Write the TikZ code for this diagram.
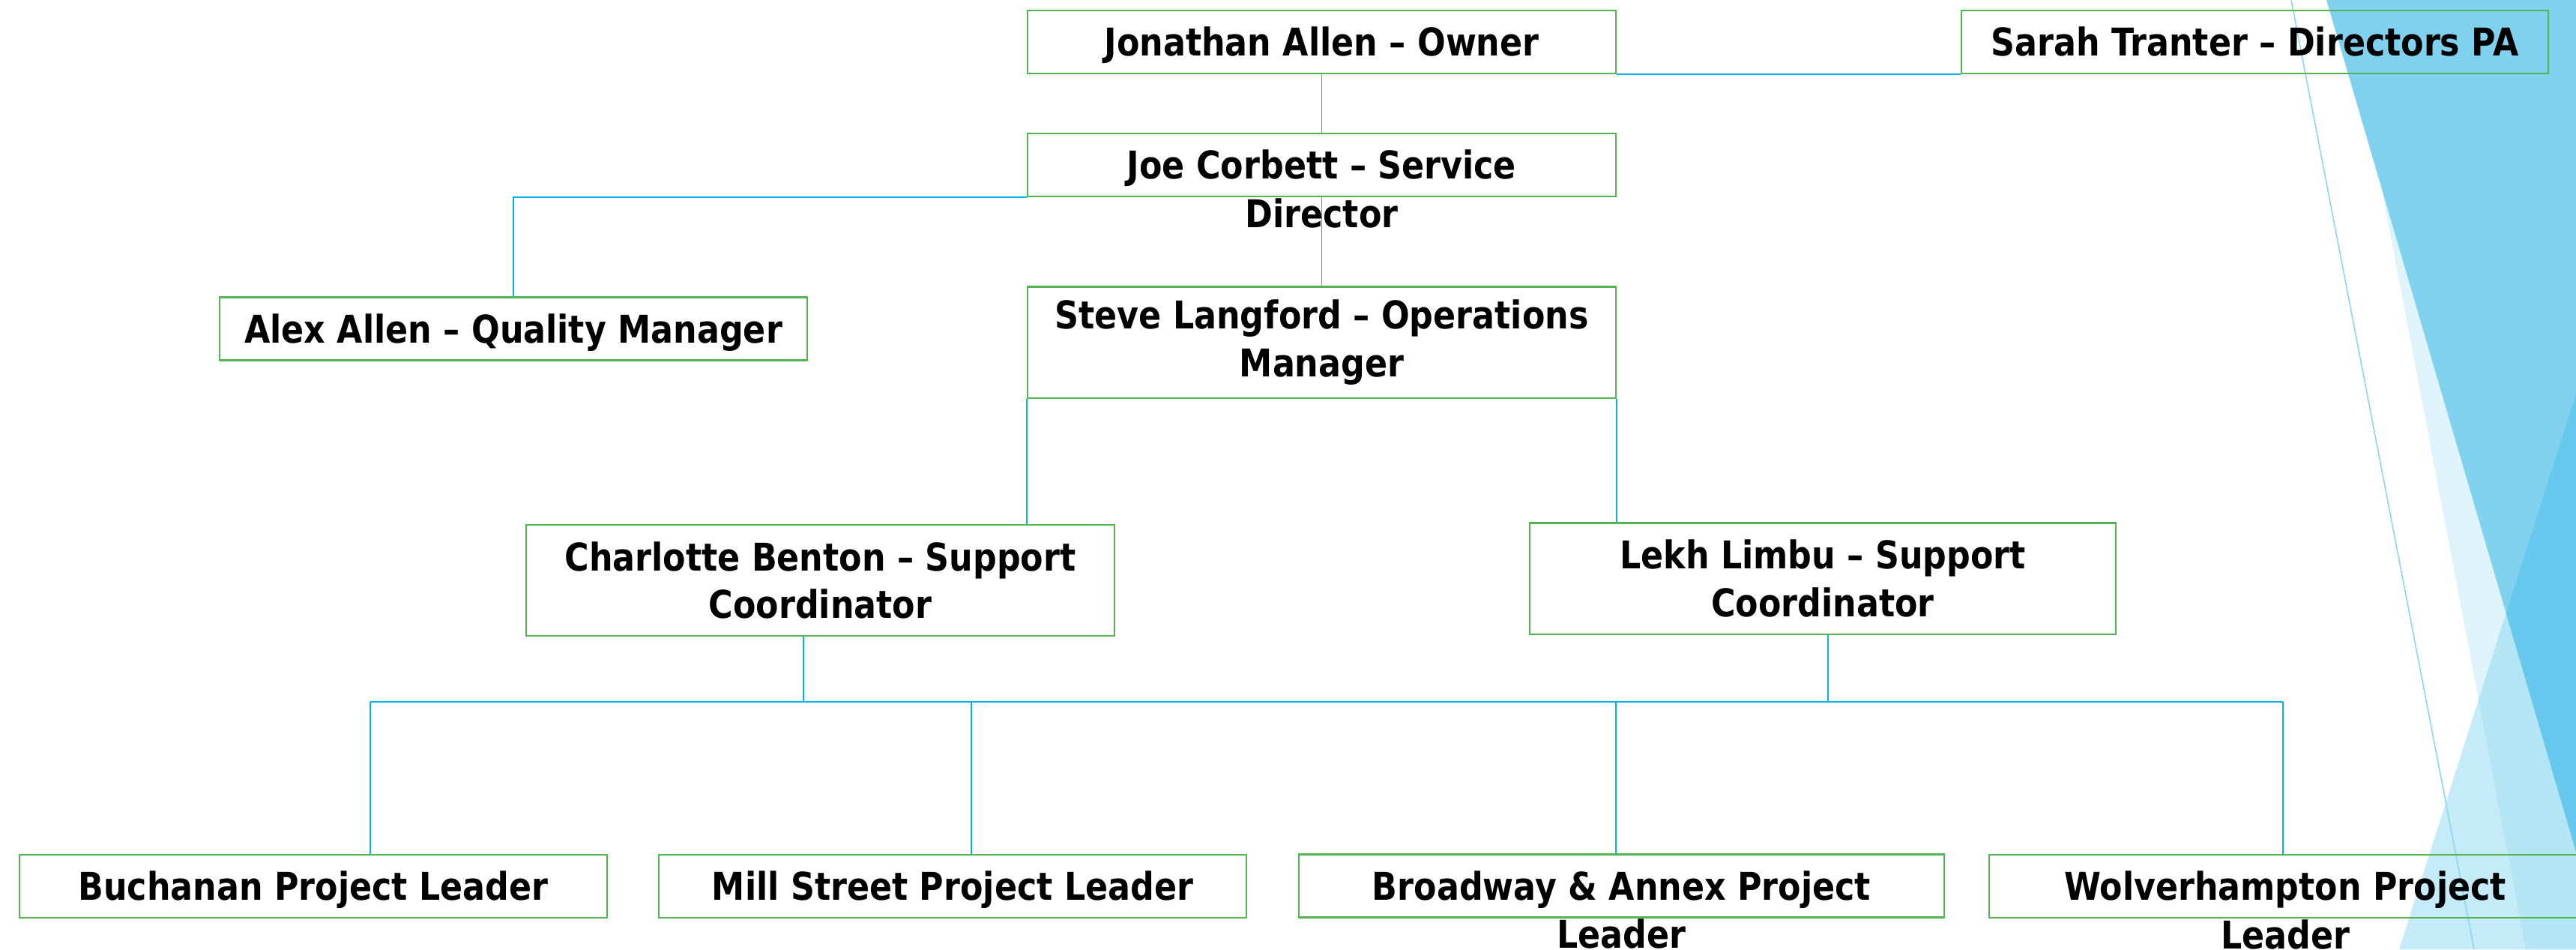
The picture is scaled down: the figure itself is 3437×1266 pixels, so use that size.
\documentclass[tikz,border=0pt]{standalone}
\usepackage{fontspec}
\newfontfamily\orgfont[FakeStretch=0.87]{DejaVu Sans}
\usetikzlibrary{calc}

\definecolor{boxgreen}{HTML}{52B452}
\definecolor{linkblue}{HTML}{00B0F0}
\definecolor{facetA}{HTML}{7FD1EE}
\definecolor{facetB}{HTML}{DFF3FB}
\definecolor{facetC}{HTML}{C5EBF8}
\definecolor{facetBC}{HTML}{B3E5F5}
\definecolor{facetAC}{HTML}{66C8EC}
\definecolor{facetline}{HTML}{8AD7F2}

\tikzset{
	person/.style={draw=boxgreen, line width=0.6pt, inner sep=0pt, align=center,
		minimum width=7.84cm, minimum height=0.84cm,
		font=\orgfont\bfseries\fontsize{14.5pt}{18.1pt}\selectfont},
	oneline/.style={person, text height=0.372cm, text depth=0pt},
	twoline/.style={person, minimum height=1.48cm},
	spill/.style={inner sep=0pt, text height=0.372cm, text depth=0pt,
		font=\orgfont\bfseries\fontsize{14.5pt}{18.1pt}\selectfont},
	link/.style={linkblue, line width=0.55pt}
}

\begin{document}
\begin{tikzpicture}[x=0.01cm, y=-0.01cm]
	\useasboundingbox (0,0) rectangle (3437,1266);
	
	% facets on the right
	\fill[facetB] (3130,0) -- (3437,0) -- (3437,1266) -- (3370,1266) -- cycle;
	\fill[facetC] (3201,1266) -- (3437,525) -- (3437,1266) -- cycle;
	\begin{scope}
		\clip (3130,0) -- (3437,0) -- (3437,1266) -- (3370,1266) -- cycle;
		\fill[facetBC] (3201,1266) -- (3437,525) -- (3437,1266) -- cycle;
	\end{scope}
	\fill[facetA] (3104,0) -- (3437,0) -- (3437,1136) -- cycle;
	\begin{scope}
		\clip (3104,0) -- (3437,0) -- (3437,1136) -- cycle;
		\fill[facetAC] (3201,1266) -- (3437,525) -- (3437,1266) -- cycle;
	\end{scope}
	\draw[facetline, line width=0.45pt] (3057,0) -- (3301,1266);
	
	\node[oneline] (owner) at (1763.5,56) {Jonathan Allen – Owner};
	\node[oneline, minimum width=7.83cm] (pa) at (3008.5,56) {Sarah Tranter – Directors PA};
	\node[oneline, label={[spill, label distance=0.02cm]below:Director}] (svc) at (1763.5,220) {Joe Corbett – Service};
	\node[oneline, minimum width=7.83cm] (qual) at (685,438.5) {Alex Allen – Quality Manager};
	\node[twoline, minimum width=7.85cm] (ops) at (1763.5,456.5) {Steve Langford – Operations\\Manager};
	\node[twoline, minimum width=7.85cm] (sup1) at (1094.5,774) {Charlotte Benton – Support\\Coordinator};
	\node[twoline, minimum width=7.82cm] (sup2) at (2432,771.5) {Lekh Limbu – Support\\Coordinator};
	
	\node[oneline] (pl1) at (418,1182) {Buchanan Project Leader};
	\node[oneline] (pl2) at (1271,1182) {Mill Street Project Leader};
	\node[oneline, minimum width=8.61cm, label={[spill, label distance=0.02cm]below:Leader}] (pl3) at (2163.5,1181.5) {Broadway \& Annex Project};
	\node[oneline, minimum width=7.9cm, label={[spill, label distance=0.02cm]below:Leader}] (pl4) at (3049,1182) {Wolverhampton Project};
	
	\draw[link] (owner.south east) -- (owner.south east -| pa.west);
	\draw[link] (owner.south) -- (svc.north);
	\draw[link] (svc.south west) -| (qual.north);
	\draw[link] (svc.south) -- (ops.north);
	\draw[link] (ops.south west) -- (ops.south west |- sup1.north);
	\draw[link] (ops.south east) -- (ops.south east |- sup2.north);
	
	% bus to the project leaders
	\coordinate (bl) at (1072,936);
	\coordinate (br) at (2439,936);
	\coordinate (b1) at (494,936);
	\coordinate (b2) at (1296,936);
	\coordinate (b3) at (2156,936);
	\coordinate (b4) at (3046,936);
	\draw[link] (b1) -- (b4);
	\draw[link] (sup1.south -| bl) -- (bl);
	\draw[link] (sup2.south -| br) -- (br);
	\foreach \b/\p in {b1/pl1,b2/pl2,b3/pl3,b4/pl4}
	\draw[link] (\b) -- (\b |- \p.north);
\end{tikzpicture}
\end{document}
